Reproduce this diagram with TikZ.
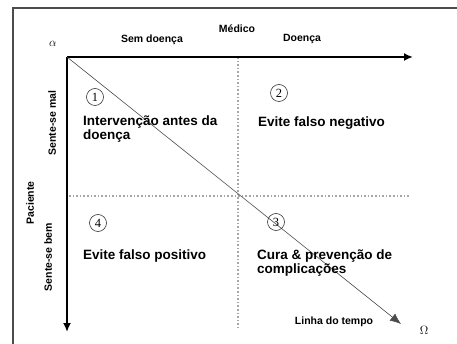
\documentclass[tikz,border=0pt]{standalone}
\usepackage{fontspec}
\setmainfont{Liberation Serif}
\setsansfont{Liberation Sans}
\usetikzlibrary{arrows.meta}

\begin{document}
\begin{tikzpicture}[x=1pt,y=-1pt,
        lab/.style={font=\sffamily\bfseries\fontsize{10.5}{12}\selectfont, inner sep=0pt},
        quad/.style={font=\sffamily\bfseries\fontsize{13.5}{14}\selectfont, align=left, anchor=base west, inner sep=0pt},
        num/.style={circle, draw=black!80, line width=0.6pt, minimum size=17pt, inner sep=0pt, font=\fontsize{12.5}{12.5}\selectfont},
        greek/.style={font=\fontsize{13}{13}\selectfont, inner sep=0pt}]
        \useasboundingbox (0,0) rectangle (457,344);
        % frame
        \draw[black!70, line width=1.2pt] (13,346) -- (13,8) -- (460,8);
        % axes
        \coordinate (orig) at (67,57);
        \coordinate (xend) at (413,57);
        \coordinate (yend) at (67,332);
        \coordinate (vtop) at (238,57);
        \coordinate (vbot) at (238,328);
        \coordinate (hleft) at (69,196);
        \coordinate (hright) at (410,196);
        \coordinate (tend) at (401,324);
        \draw[gray!70, line width=1.6pt, dotted] (vtop) -- (vbot);
        \draw[gray!70, line width=1.6pt, dotted] (hleft) -- (hright);
        \draw[line width=2.4pt, -{Latex[length=9pt,width=8pt]}] (orig) -- (xend);
        \draw[line width=2.4pt, -{Latex[length=9pt,width=8pt]}] (orig) -- (yend);
        \draw[black!70, line width=0.6pt, -{Latex[length=11pt,width=9pt]}] (orig) -- (tend);
        % labels
        \node[greek] (alfa) at (53,44) {$\alpha$};
        \node[greek] (omega) at (424,330) {$\Omega$};
        \node[lab, anchor=base] (semd) at (152,43) {Sem doença};
        \node[lab, anchor=base] (med) at (237,33) {Médico};
        \node[lab, anchor=base] (doe) at (302,42) {Doença};
        \node[lab, anchor=base] (tempo) at (334,324) {Linha do tempo};
        \node[lab, rotate=90] (mal) at (52,123) {Sente-se mal};
        \node[lab, rotate=90] (pac) at (30,203) {Paciente};
        \node[lab, rotate=90] (bem) at (48,257) {Sente-se bem};
        % quadrants
        \node[num] (n1) at (95,97) {1};
        \node[num] (n2) at (279,93) {2};
        \node[num] (n3) at (276,222) {3};
        \node[num] (n4) at (98,223) {4};
        \node[quad] (q1) at (83,140) {Intervenção antes da\\doença};
        \node[quad] (q2) at (258,127) {Evite falso negativo};
        \node[quad] (q3) at (257,273) {Cura \& prevenção de\\complicações};
        \node[quad] (q4) at (83,259) {Evite falso positivo};
\end{tikzpicture}
\end{document}
